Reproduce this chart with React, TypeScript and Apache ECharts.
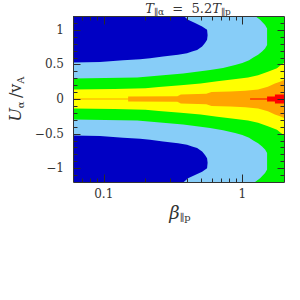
import React, { useEffect, useRef } from 'react';
import * as echarts from 'echarts';

const X_MIN = 0.06;
const X_MAX = 2;
const Y_MIN = -1.2;
const Y_MAX = 1.2;

const xMajorTicks = [0.1, 1];
const xMinorTicks = [0.07, 0.08, 0.09, 0.2, 0.3, 0.4, 0.5, 0.6, 0.7, 0.8, 0.9];
const yMajorTicks = [-1, -0.5, 0, 0.5, 1];
const yMinorTicks = [-1.1, -0.9, -0.8, -0.7, -0.6, -0.4, -0.3, -0.2, -0.1, 0.1, 0.2, 0.3, 0.4, 0.6, 0.7, 0.8, 0.9, 1.1];

// Contour edges (upper half, [beta, U]); the lower half is the mirror image.
const darkBlueEdge = [
  [0.06, 1.2], [0.378, 1.2], [0.406, 1.145], [0.456, 1.1], [0.513, 1.05], [0.557, 1.0],
  [0.562, 0.92], [0.557, 0.855], [0.538, 0.81], [0.513, 0.76], [0.472, 0.71], [0.434, 0.686],
  [0.399, 0.66], [0.344, 0.64], [0.268, 0.613], [0.216, 0.59], [0.183, 0.574], [0.138, 0.56],
  [0.094, 0.535], [0.06, 0.526],
];
const greenEdge = [
  [0.06, 0.298], [0.174, 0.31], [0.255, 0.34], [0.374, 0.37], [0.5, 0.4], [0.585, 0.42],
  [0.726, 0.45], [0.887, 0.49], [1.0, 0.52], [1.12, 0.56], [1.2, 0.6], [1.3, 0.64],
  [1.389, 0.686], [1.46, 0.73], [1.51, 0.78], [1.51, 1.02], [1.46, 1.07], [1.344, 1.145],
  [1.237, 1.2], [2.0, 1.2],
];
const yellowEdge = [
  [0.06, 0.138], [0.12, 0.145], [0.2, 0.157], [0.25, 0.175], [0.36, 0.2], [0.5, 0.225],
  [0.66, 0.255], [0.9, 0.29], [1.1, 0.31], [1.3, 0.345], [1.53, 0.395], [1.78, 0.445],
  [1.9, 0.49], [2.0, 0.52],
];
const orangeEdge = [
  [0.06, 0.008], [0.15, 0.008], [0.15, 0.035], [0.34, 0.04], [0.36, 0.065], [0.55, 0.075],
  [0.6, 0.1], [0.82, 0.11], [1.05, 0.12], [1.3, 0.138], [1.53, 0.177], [1.72, 0.225],
  [1.87, 0.25], [2.0, 0.273],
];
const redEdge = [
  [1.138, 0.008], [1.51, 0.008], [1.51, 0.035], [1.72, 0.035], [1.72, 0.065], [2.0, 0.065],
];

const COLORS = {
  darkBlue: '#0000c4',
  lightBlue: '#87cdf8',
  green: '#00f500',
  yellow: '#ffff00',
  orange: '#ffa500',
  red: '#ff0000',
};

const mirror = (edge: number[][]) => edge.map(([x, y]) => [x, -y]);
const mirrorClosed = (edge: number[][]) => edge.concat(mirror(edge.slice().reverse()));

const layers = [
  { color: COLORS.lightBlue, pts: [[X_MIN, Y_MAX], [X_MAX, Y_MAX], [X_MAX, Y_MIN], [X_MIN, Y_MIN]] },
  { color: COLORS.darkBlue, pts: darkBlueEdge },
  { color: COLORS.darkBlue, pts: mirror(darkBlueEdge) },
  { color: COLORS.green, pts: mirrorClosed(greenEdge) },
  { color: COLORS.yellow, pts: mirrorClosed(yellowEdge) },
  { color: COLORS.orange, pts: mirrorClosed(orangeEdge) },
  { color: COLORS.red, pts: mirrorClosed(redEdge) },
];

const TICK = '#2a2a2a';
const FONT = 'DejaVu Serif';

export default function App() {
  const ref = useRef<HTMLDivElement>(null);
  useEffect(() => {
    if (!ref.current) return;
    const chart = echarts.init(ref.current, null, { renderer: 'svg' });
    const near = (arr: number[], v: number) => arr.some((t) => Math.abs(t - v) < 1e-6);
    const option: any = {
      animation: false,
      backgroundColor: '#ffffff',
      grid: { left: 73, right: 16, top: 16, bottom: 118 },
      xAxis: {
        type: 'log',
        logBase: 10,
        min: X_MIN,
        max: X_MAX,
        axisLine: { show: false },
        axisTick: { show: false },
        splitLine: { show: false },
        axisLabel: {
          margin: 6,
          fontFamily: FONT,
          fontSize: 12,
          color: '#333',
          showMinLabel: false,
          showMaxLabel: false,
          formatter: (v: number) => {
            const r = Math.round(v * 1000) / 1000;
            return near(xMajorTicks, r) ? String(r) : '';
          },
        },
      },
      yAxis: {
        type: 'value',
        min: Y_MIN,
        max: Y_MAX,
        axisLine: { show: false },
        axisTick: { show: false },
        splitLine: { show: false },
        axisLabel: {
          margin: 9,
          fontFamily: FONT,
          fontSize: 12,
          color: '#333',
          showMinLabel: false,
          showMaxLabel: false,
          formatter: (v: number) => (near(yMajorTicks, v) ? String(v).replace('-', '\u2212') : ''),
        },
      },
      series: [
        {
          type: 'custom',
          clip: true,
          z: 2,
          data: layers.map((_, i) => [X_MIN, 0, i]),
          renderItem: (params: any, api: any) => {
            const layer = layers[params.dataIndex];
            const points = layer.pts.map((p) => api.coord(p));
            return {
              type: 'polygon',
              shape: { points },
              style: { fill: layer.color, stroke: null },
            };
          },
        },
        {
          type: 'custom',
          clip: false,
          z: 5,
          data: [[X_MIN, 0]],
          renderItem: (params: any, api: any) => {
            const children: any[] = [];
            const px = (v: number) => Math.round(v) + 0.5;
            const add = (x1: number, y1: number, x2: number, y2: number) =>
              children.push({ type: 'line', shape: { x1, y1, x2, y2 }, style: { stroke: TICK, lineWidth: 1 } });
            const tl = api.coord([X_MIN, Y_MAX]);
            const br = api.coord([X_MAX, Y_MIN]);
            const L = px(tl[0]), T = px(tl[1]), R = px(br[0]), B = px(br[1]);
            const xt = (v: number, len: number) => {
              const x = px(api.coord([v, 0])[0]);
              add(x, B, x, B - len);
              add(x, T, x, T + len);
            };
            const yt = (v: number, len: number) => {
              const y = px(api.coord([X_MIN, v])[1]);
              add(L, y, L + len, y);
              add(R, y, R - len, y);
            };
            xMajorTicks.forEach((v) => xt(v, 8));
            xMinorTicks.forEach((v) => xt(v, 4));
            yMajorTicks.forEach((v) => yt(v, 7));
            yMinorTicks.forEach((v) => yt(v, 4));
            children.push({
              type: 'rect',
              shape: { x: L, y: T, width: R - L, height: B - T },
              style: { fill: null, stroke: '#333', lineWidth: 1 },
            });
            return { type: 'group', children };
          },
        },
      ],
      graphic: [
        {
          type: 'text',
          x: 188,
          y: 8,
          style: {
            text: '{i|T}{s|\u2225\u03b1}  =  5.2{i|T}{s|\u2225p}',
            align: 'center',
            verticalAlign: 'middle',
            fill: '#333',
            rich: {
              i: { fontFamily: FONT, fontStyle: 'italic', fontSize: 13, lineHeight: 16, fill: '#333' },
              s: { fontFamily: FONT, fontSize: 9, lineHeight: 9, verticalAlign: 'bottom', fill: '#333' },
            },
            fontFamily: FONT,
            fontSize: 13,
            lineHeight: 16,
          },
        },
        {
          type: 'text',
          x: 180,
          y: 212,
          style: {
            text: '{b|\u03b2}{s|\u2225p}',
            align: 'center',
            verticalAlign: 'middle',
            rich: {
              b: { fontFamily: FONT, fontStyle: 'italic', fontSize: 18, lineHeight: 20, fill: '#333' },
              s: { fontFamily: FONT, fontSize: 10, lineHeight: 10, verticalAlign: 'bottom', fill: '#333' },
            },
          },
        },
        {
          type: 'text',
          x: 15,
          y: 99,
          rotation: Math.PI / 2,
          style: {
            text: '{u|U}{s|\u03b1} {n|/}{v|v}{s|A}',
            align: 'center',
            verticalAlign: 'middle',
            rich: {
              u: { fontFamily: FONT, fontStyle: 'italic', fontSize: 16, lineHeight: 20, fill: '#333' },
              n: { fontFamily: FONT, fontSize: 16, lineHeight: 20, fill: '#333' },
              v: { fontFamily: FONT, fontSize: 16, lineHeight: 20, fill: '#333' },
              s: { fontFamily: FONT, fontSize: 10, lineHeight: 10, verticalAlign: 'bottom', fill: '#333' },
            },
          },
        },
      ],
    };
    chart.setOption(option);
    return () => chart.dispose();
  }, []);
  return (
    <div
      ref={ref}
      style={{ position: 'fixed', left: 0, top: 0, width: 300, height: 300 }}
    />
  );
}
